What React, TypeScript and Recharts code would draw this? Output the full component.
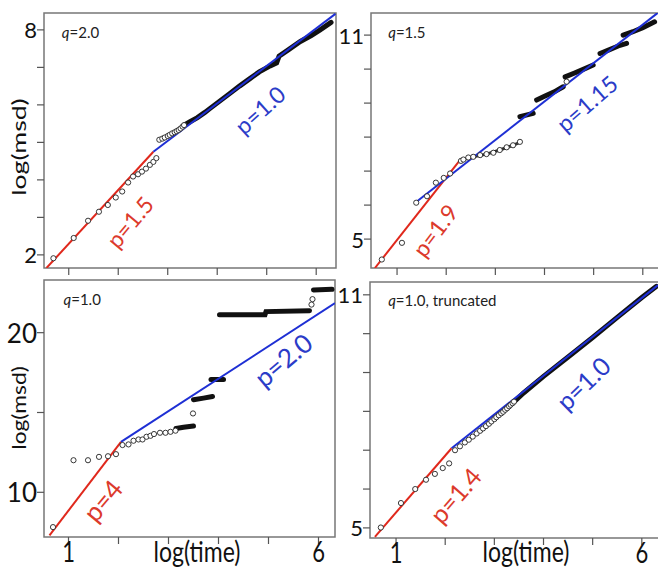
import { ComposedChart, XAxis, YAxis, Line, Scatter, ReferenceArea, ReferenceDot } from "recharts"

const FONT = "Lato, 'DejaVu Sans', sans-serif"
const RED = "#e0281c"
const BLUE = "#1e2fd4"
const RED_TXT = "#dc3a2c"
const BLUE_TXT = "#2b3cc8"

// x is log(time), y is log(msd)
const timeTicks = [1, 2, 3, 4, 5, 6]
const timeLabels = [1, 6]

// q = 2.0
const q20Ticks = [2, 3, 4, 5, 6, 7, 8]
const q20Labels = [2, 8]
const q20Circles = [
  [0.69, 1.91], [1.1, 2.45], [1.39, 2.91], [1.61, 3.15], [1.79, 3.33], [1.95, 3.53], [2.08, 3.69],
  [2.2, 3.93], [2.3, 4.09], [2.4, 4.15], [2.48, 4.22], [2.56, 4.3], [2.64, 4.4], [2.71, 4.48], [2.77, 4.58],
  [2.83, 5.07], [2.89, 5.1], [2.94, 5.13], [3.0, 5.17], [3.04, 5.2], [3.09, 5.24], [3.14, 5.27],
  [3.18, 5.3], [3.22, 5.33], [3.26, 5.37], [3.3, 5.42], [3.33, 5.46],
]
const q20Dense = [
  [3.33, 5.46], [3.45, 5.55], [3.6, 5.66], [3.75, 5.8], [3.85, 5.9], [4.05, 6.1], [4.25, 6.3],
  [4.45, 6.5], [4.66, 6.7], [4.85, 6.88], [5.07, 7.04], [5.2, 7.12], [5.25, 7.3], [5.45, 7.48],
  [5.68, 7.69], [5.9, 7.85], [6.08, 8.0], [6.3, 8.2],
]
const q20RedFit = [[0.55, 1.65], [2.71, 4.75]]
const q20BlueFit = [[2.71, 4.75], [6.39, 8.43]]

// q = 1.5
const q15Ticks = [5, 6, 7, 8, 9, 10, 11]
const q15Labels = [5, 11]
const q15Circles = [
  [0.69, 4.4], [1.1, 4.89], [1.39, 6.07], [1.61, 6.26], [1.79, 6.66], [1.95, 6.8], [2.08, 6.93],
  [2.3, 7.3], [2.35, 7.34], [2.45, 7.4], [2.55, 7.42], [2.69, 7.47], [2.82, 7.5], [2.96, 7.54],
  [3.09, 7.62], [3.23, 7.7], [3.36, 7.76], [3.5, 7.86], [4.45, 9.63],
]
const q15Haze = [[2.35, 7.34], [2.55, 7.42], [2.82, 7.5], [3.09, 7.62], [3.36, 7.76], [3.52, 7.86]]
const q15Dense = [
  [[3.5, 8.6], [3.77, 8.7]],
  [[3.84, 9.09], [4.0, 9.2], [4.2, 9.33], [4.38, 9.48]],
  [[4.42, 9.77], [4.6, 9.88], [4.8, 10.0], [4.99, 10.12]],
  [[5.13, 10.46], [5.3, 10.56], [5.5, 10.68], [5.67, 10.76]],
  [[5.6, 11.0], [5.8, 11.1], [6.0, 11.22], [6.24, 11.39]],
]
const q15RedFit = [[0.55, 4.15], [2.28, 7.32]]
const q15BlueFit = [[1.37, 6.07], [6.3, 11.65]]

// q = 1.0
const q10Ticks = [10, 15, 20]
const q10Labels = [10, 20]
const q10Circles = [
  [0.69, 7.82], [1.1, 12.01], [1.39, 12.01], [1.61, 12.22], [1.79, 12.26], [1.95, 12.39], [2.08, 12.96],
  [2.2, 13.0], [2.3, 13.23], [2.4, 13.31], [2.48, 13.31], [2.56, 13.48], [2.64, 13.54], [2.71, 13.65],
  [2.83, 13.73], [2.94, 13.73], [3.04, 13.79], [3.14, 13.86], [3.49, 14.94], [5.86, 21.76], [5.88, 22.1],
]
const q10Dense = [
  [[3.15, 14.0], [3.3, 14.08], [3.5, 14.15]],
  [[3.5, 15.8], [3.7, 15.9], [3.88, 16.0]],
  [[3.85, 17.06], [4.1, 17.06]],
  [[4.02, 21.13], [4.93, 21.13], [4.95, 21.32], [5.82, 21.38]],
  [[5.9, 22.68], [6.27, 22.72]],
]
const q10RedFit = [[0.62, 7.3], [2.05, 13.16]]
const q10BlueFit = [[2.05, 13.16], [6.33, 21.85]]

// q = 1.0, truncated
const q10tTicks = [5, 6, 7, 8, 9, 10, 11]
const q10tLabels = [5, 11]
const q10tCircles = [
  [0.69, 5.01], [1.1, 5.64], [1.39, 6.0], [1.61, 6.24], [1.79, 6.39], [1.95, 6.54], [2.08, 6.66],
  [2.2, 7.0], [2.3, 7.1], [2.4, 7.2], [2.48, 7.27], [2.56, 7.35], [2.64, 7.43], [2.71, 7.5],
  [2.77, 7.56], [2.83, 7.62], [2.89, 7.68], [2.94, 7.74], [3.0, 7.8], [3.04, 7.85], [3.09, 7.9],
  [3.14, 7.95], [3.18, 7.99], [3.22, 8.04], [3.26, 8.08], [3.3, 8.13], [3.33, 8.17], [3.37, 8.21], [3.4, 8.25],
]
const q10tDense = [
  [[3.3, 8.13], [3.6, 8.48], [4.0, 8.9], [4.5, 9.4], [5.0, 9.9], [5.5, 10.42], [6.0, 10.93], [6.3, 11.22]],
]
const q10tRedFit = [[0.57, 4.77], [2.13, 7.05]]
const q10tBlueFit = [[2.13, 7.05], [6.33, 11.25]]

const toPts = (rows: number[][]) => rows.map(([x, y]) => ({ x, y }))

type Note = { x: number; y: number; text: string; color: string; size: number; angle: number; q?: boolean }

const circleShape = (p: any) => (
  <circle cx={p.cx} cy={p.cy} r={2.6} fill="#fff" stroke="#222" strokeWidth={0.9} />
)

const noteShape = (n: Note) => (p: any) =>
  n.q ? (
    <text x={p.cx} y={p.cy} fontSize={n.size} fontFamily={FONT} fill="#222" dominantBaseline="central">
      <tspan fontStyle="italic">q</tspan>
      {n.text}
    </text>
  ) : (
    <text
      x={p.cx}
      y={p.cy}
      fontSize={n.size}
      fontFamily={FONT}
      fill={n.color}
      textAnchor="middle"
      dominantBaseline="central"
      transform={`rotate(${n.angle} ${p.cx} ${p.cy})`}
    >
      {n.text}
    </text>
  )

type PanelProps = {
  box: [number, number, number, number]
  xDomain: [number, number]
  yDomain: [number, number]
  yTicks: number[]
  yLabels: number[]
  yFont: number
  showX: boolean
  circles: number[][]
  haze?: number[][]
  dense: number[][][]
  red: number[][]
  blue: number[][]
  notes: Note[]
}

function Panel({ box, xDomain, yDomain, yTicks, yLabels, yFont, showX, circles, haze, dense, red, blue, notes }: PanelProps) {
  const [left, top, right, bottom] = box
  return (
    <div style={{ position: "absolute", left: 0, top: 0 }}>
      <ComposedChart
        width={680}
        height={569}
        margin={{ top, left: left - 40, right: 680 - right, bottom: 569 - bottom - 30 }}
      >
        <XAxis
          type="number"
          dataKey="x"
          domain={xDomain}
          ticks={timeTicks}
          allowDataOverflow
          height={30}
          tickSize={7}
          tickMargin={2}
          axisLine={false}
          tickLine={{ stroke: "#555", strokeWidth: 1.2 }}
          tick={(p: any) =>
            showX && timeLabels.includes(p.payload.value) ? (
              <text
                transform={`translate(${p.x},${p.y + 16}) scale(1,1.3)`}
                textAnchor="middle"
                fontSize={22}
                fontFamily={FONT}
                fill="#111"
              >
                {p.payload.value}
              </text>
            ) : (
              <g />
            )
          }
        />
        <YAxis
          type="number"
          dataKey="y"
          domain={yDomain}
          ticks={yTicks}
          allowDataOverflow
          width={40}
          tickSize={7}
          tickMargin={0}
          axisLine={false}
          tickLine={{ stroke: "#555", strokeWidth: 1.2 }}
          tick={(p: any) =>
            yLabels.includes(p.payload.value) ? (
              <text x={p.x} y={p.y} textAnchor="end" dominantBaseline="central" fontSize={yFont} fontFamily={FONT} fill="#111">
                {p.payload.value}
              </text>
            ) : (
              <g />
            )
          }
        />
        {haze && (
          <Line
            data={toPts(haze)}
            dataKey="y"
            type="linear"
            stroke="#333"
            strokeWidth={3}
            dot={false}
            activeDot={false}
            isAnimationActive={false}
          />
        )}
        <Scatter data={toPts(circles)} dataKey="y" shape={circleShape} isAnimationActive={false} />
        {dense.map((seg, i) => (
          <Line
            key={"d" + i}
            data={toPts(seg)}
            dataKey="y"
            type="linear"
            stroke="#111"
            strokeWidth={5}
            strokeLinecap="round"
            dot={false}
            activeDot={false}
            isAnimationActive={false}
          />
        ))}
        <Line data={toPts(red)} dataKey="y" type="linear" stroke={RED} strokeWidth={2} dot={false} activeDot={false} isAnimationActive={false} />
        <Line data={toPts(blue)} dataKey="y" type="linear" stroke={BLUE} strokeWidth={2} dot={false} activeDot={false} isAnimationActive={false} />
        <ReferenceArea
          x1={xDomain[0]}
          x2={xDomain[1]}
          y1={yDomain[0]}
          y2={yDomain[1]}
          fill="none"
          stroke="#777"
          strokeWidth={1.5}
        />
        {notes.map((n, i) => (
          <ReferenceDot key={"n" + i} x={n.x} y={n.y} r={0} shape={noteShape(n)} />
        ))}
      </ComposedChart>
    </div>
  )
}

export default function App() {
  return (
    <div style={{ position: "absolute", left: 0, top: 0, width: 658, height: 569, overflow: "hidden", background: "#fff" }}>
      <Panel
        box={[44, 13, 336, 268]}
        xDomain={[0.5, 6.4]}
        yDomain={[1.65, 8.45]}
        yTicks={q20Ticks}
        yLabels={q20Labels}
        yFont={22}
        showX={false}
        circles={q20Circles}
        dense={[q20Dense]}
        red={q20RedFit}
        blue={q20BlueFit}
        notes={[
          { x: 0.86, y: 7.95, text: "=2.0", color: "#222", size: 15, angle: 0, q: true },
          { x: 4.86, y: 5.87, text: "p=1.0", color: BLUE_TXT, size: 23, angle: -42 },
          { x: 2.23, y: 2.88, text: "p=1.5", color: RED_TXT, size: 23, angle: -50 },
        ]}
      />
      <Panel
        box={[371, 13, 660, 268]}
        xDomain={[0.47, 6.35]}
        yDomain={[4.15, 11.65]}
        yTicks={q15Ticks}
        yLabels={q15Labels}
        yFont={22}
        showX={false}
        circles={q15Circles}
        haze={q15Haze}
        dense={q15Dense}
        red={q15RedFit}
        blue={q15BlueFit}
        notes={[
          { x: 0.82, y: 11.09, text: "=1.5", color: "#222", size: 15, angle: 0, q: true },
          { x: 4.86, y: 9.0, text: "p=1.15", color: BLUE_TXT, size: 23, angle: -41 },
          { x: 1.77, y: 5.26, text: "p=1.9", color: RED_TXT, size: 23, angle: -53 },
        ]}
      />
      <Panel
        box={[44, 280, 335, 537]}
        xDomain={[0.51, 6.33]}
        yDomain={[7.2, 23.3]}
        yTicks={q10Ticks}
        yLabels={q10Labels}
        yFont={26}
        showX
        circles={q10Circles}
        dense={q10Dense}
        red={q10RedFit}
        blue={q10BlueFit}
        notes={[
          { x: 0.9, y: 22.08, text: "=1.0", color: "#222", size: 15, angle: 0, q: true },
          { x: 5.29, y: 18.3, text: "p=2.0", color: BLUE_TXT, size: 26, angle: -40 },
          { x: 1.68, y: 9.5, text: "p=4", color: RED_TXT, size: 26, angle: -50 },
        ]}
      />
      <Panel
        box={[370, 282, 660, 538]}
        xDomain={[0.47, 6.37]}
        yDomain={[4.74, 11.33]}
        yTicks={q10tTicks}
        yLabels={q10tLabels}
        yFont={22}
        showX
        circles={q10tCircles}
        dense={q10tDense}
        red={q10tRedFit}
        blue={q10tBlueFit}
        notes={[
          { x: 0.84, y: 10.87, text: "=1.0, truncated", color: "#222", size: 15, angle: 0, q: true },
          { x: 4.8, y: 8.73, text: "p=1.0", color: BLUE_TXT, size: 25, angle: -44 },
          { x: 2.2, y: 5.85, text: "p=1.4", color: RED_TXT, size: 25, angle: -49 },
        ]}
      />
      <svg width={658} height={569} style={{ position: "absolute", left: 0, top: 0, pointerEvents: "none" }}>
        <g fontFamily={FONT} fill="#111">
          <text transform="translate(26,147) rotate(-90) scale(1.4,1)" textAnchor="middle" fontSize={19}>log(msd)</text>
          <text transform="translate(26,408) rotate(-90) scale(1.2,1)" textAnchor="middle" fontSize={19}>log(msd)</text>
          <text transform="translate(197,562) scale(1,1.25)" textAnchor="middle" fontSize={23}>log(time)</text>
          <text transform="translate(526,562) scale(1,1.25)" textAnchor="middle" fontSize={23}>log(time)</text>
        </g>
      </svg>
    </div>
  )
}
